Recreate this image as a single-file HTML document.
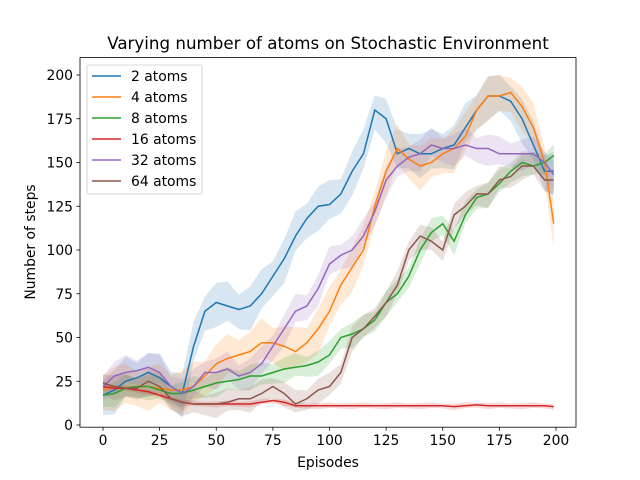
<!DOCTYPE html>
<html><head><meta charset="utf-8"><style>
body{margin:0;background:#fff}
svg{display:block;font-family:"DejaVu Sans","Liberation Sans",sans-serif}
</style></head><body>
<svg id="chart" width="640" height="480">
<rect width="640" height="480" fill="#fff"/>
<text x="328" y="49" text-anchor="middle" font-size="16.7" fill="#000">Varying number of atoms on Stochastic Environment</text>
<g id="bands"></g><g id="lines"></g><g id="axes"></g>
<rect x="80" y="57.6" width="496" height="369.6" fill="none" stroke="#000" stroke-width="0.8"/>
<text x="328" y="467" text-anchor="middle" font-size="13.9">Episodes</text>
<text transform="translate(35,242) rotate(-90)" text-anchor="middle" font-size="13.9">Number of steps</text>
<g id="legend"></g>
</svg>
<script>
const episodes=[0,5,10,15,20,25,30,35,40,45,50,55,60,65,70,75,80,85,90,95,100,105,110,115,120,125,130,135,140,145,150,155,160,165,170,175,180,185,190,195,199];
const labels=["2 atoms","4 atoms","8 atoms","16 atoms","32 atoms","64 atoms"];
const colors=["#1f77b4","#ff7f0e","#2ca02c","#d62728","#9467bd","#8c564b"];
const s2=[17,20,25,27,30,27,22,18,45,65,70,68,66,68,75,85,95,108,118,125,126,132,145,155,180,175,155,158,155,155,158,160,170,180,188,188,185,175,160,145,145];
const s4=[20,22,21,22,22,21,20,20,22,28,35,38,40,42,47,47,45,42,47,55,65,80,90,100,125,145,158,152,148,150,155,158,165,180,188,188,190,182,170,150,115];
const s8=[17,18,21,22,22,20,18,18,20,22,24,25,26,28,28,30,32,33,34,36,40,50,52,55,60,70,75,85,100,110,115,105,120,130,132,138,145,150,148,150,154];
const s16=[22,21,21,20,19,17,15,13,12,12,12,12,12,12,13,14,13,11,11,11,11,11,11,11,11,11,11,11,11,11,11,10.5,11,11.5,11,11,11,11,11,11,10.5];
const s32=[22,28,30,31,33,30,22,18,22,30,30,32,28,30,35,45,55,65,68,78,92,97,100,108,122,140,148,153,155,160,158,158,160,158,158,155,155,155,155,150,143];
const s64=[24,22,21,21,25,22,15,13,12,12,12,13,15,15,18,22,18,12,15,20,22,30,50,55,62,70,80,100,108,105,100,120,125,132,132,140,142,148,148,140,140];
const series=[s2,s4,s8,s16,s32,s64];
const spread=[14,14,8,2,10,8];
const xTicks=[0,25,50,75,100,125,150,175,200];
const yTicks=[0,25,50,75,100,125,150,175,200];
const NS="http://www.w3.org/2000/svg";
const X=v=>103+v*453/200, Y=v=>425-v*1.75;
function mk(t,a,p){const e=document.createElementNS(NS,t);for(const k in a)e.setAttribute(k,a[k]);p.appendChild(e);return e;}
const bands=document.getElementById('bands'),lines=document.getElementById('lines'),axes=document.getElementById('axes'),leg=document.getElementById('legend');
series.forEach((s,i)=>{
  const up=s.map((v,j)=>X(episodes[j])+','+Y(Math.min(200,v+spread[i]*(0.6+0.4*((j%3)/2))))).join(' ');
  const lo=s.map((v,j)=>X(episodes[j])+','+Y(Math.max(0,v-spread[i]*(0.6+0.4*(((j+1)%3)/2))))).reverse().join(' ');
  const b=mk('polygon',{points:up+' '+lo,fill:colors[i],'fill-opacity':0.18},bands);
  
  
  const l=mk('polyline',{points:s.map((v,j)=>X(episodes[j])+','+Y(v)).join(' '),fill:'none',stroke:colors[i],'stroke-width':1.5},lines);
  
  
});
xTicks.forEach(t=>{
  mk('line',{x1:X(t),x2:X(t),y1:427.2,y2:430.7,stroke:'#000','stroke-width':0.8},axes);
  const tx=mk('text',{x:X(t),y:445,'text-anchor':'middle','font-size':13.9},axes);tx.textContent=t;
  
  
});
yTicks.forEach(t=>{
  mk('line',{x1:76.5,x2:80,y1:Y(t),y2:Y(t),stroke:'#000','stroke-width':0.8},axes);
  const tx=mk('text',{x:73,y:Y(t)+5,'text-anchor':'end','font-size':13.9},axes);tx.textContent=t;
  
  
});
mk('rect',{x:87,y:65,width:115,height:129,rx:2,fill:'#fff','fill-opacity':0.8,stroke:'#ccc','stroke-width':0.8},leg);
labels.forEach((lb,i)=>{
  const y=76+i*21;
  mk('line',{x1:92,x2:121,y1:y,y2:y,stroke:colors[i],'stroke-width':1.5},leg);
  const t=mk('text',{x:131,y:y+5,'font-size':13.9},leg);t.textContent=lb;
  
  
});
</script>
</body></html>
